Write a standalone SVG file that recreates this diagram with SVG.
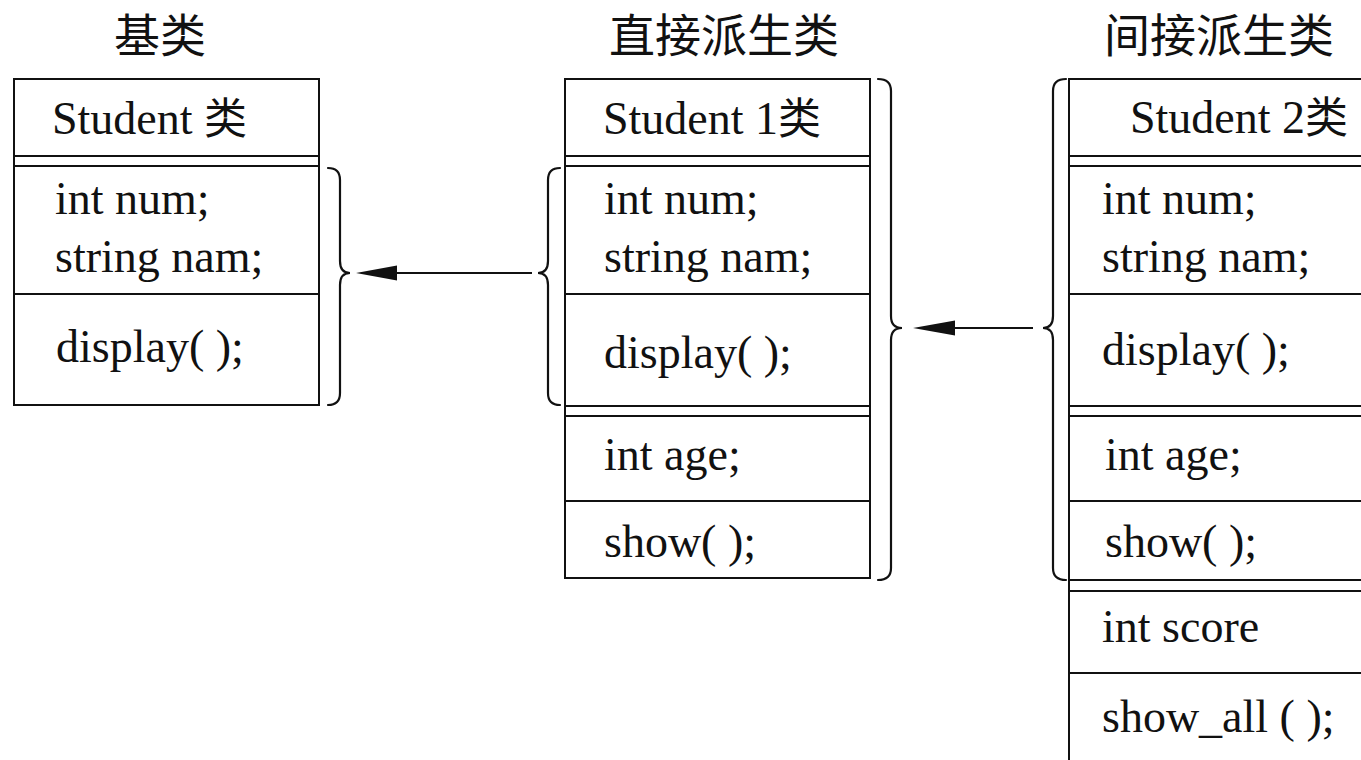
<svg xmlns="http://www.w3.org/2000/svg" width="1361" height="760" viewBox="0 0 1361 760">
  <defs>
    <style>
      .box { fill: #fff; stroke: #111; stroke-width: 2; }
      .sep { stroke: #111; stroke-width: 2; fill: none; }
      .brace { stroke: #111; stroke-width: 2.2; fill: none; stroke-linecap: round; }
      .link { stroke: #111; stroke-width: 2.2; fill: none; }
      .head { fill: #111; stroke: none; }
      .code { font-family: 'Liberation Serif', 'Times New Roman', serif; font-size: 46px; fill: #111; }
      .han { font-family: 'Noto Sans CJK SC', sans-serif; font-size: 43px; fill: #111; }
      .cap { font-family: 'Noto Sans CJK SC', sans-serif; font-size: 46px; fill: #111; }
    </style>
  </defs>

  <rect width="1361" height="760" fill="#fff"/>

  <!-- column headings -->
  <text class="cap" x="114" y="52">基类</text>
  <text class="cap" x="609" y="52">直接派生类</text>
  <text class="cap" x="1104" y="52">间接派生类</text>

  <!-- base class -->
  <g id="student">
    <rect class="box" x="14" y="79" width="305" height="326"/>
    <path class="sep" d="M14,156 H319 M14,166 H319 M14,294 H319"/>
    <text class="code" x="52" y="134">Student <tspan class="han">类</tspan></text>
    <text class="code" x="55" y="214">int num;</text>
    <text class="code" x="55" y="272">string nam;</text>
    <text class="code" x="56" y="362">display( );</text>
  </g>

  <!-- direct derived class -->
  <g id="student1">
    <rect class="box" x="565" y="79" width="305" height="499"/>
    <path class="sep" d="M565,156 H870 M565,166 H870 M565,294 H870 M565,406 H870 M565,416 H870 M565,501 H870"/>
    <text class="code" x="603" y="134">Student 1<tspan class="han">类</tspan></text>
    <text class="code" x="604" y="214">int num;</text>
    <text class="code" x="604" y="272">string nam;</text>
    <text class="code" x="604" y="368">display( );</text>
    <text class="code" x="604" y="470">int age;</text>
    <text class="code" x="604" y="557">show( );</text>
  </g>

  <!-- indirect derived class (runs past the right and bottom edges) -->
  <g id="student2">
    <rect class="box" x="1069" y="79" width="340" height="720"/>
    <path class="sep" d="M1069,156 H1361 M1069,166 H1361 M1069,294 H1361 M1069,406 H1361 M1069,416 H1361 M1069,501 H1361 M1069,580 H1361 M1069,591 H1361 M1069,673 H1361"/>
    <text class="code" x="1130" y="133">Student 2<tspan class="han">类</tspan></text>
    <text class="code" x="1102" y="214">int num;</text>
    <text class="code" x="1102" y="272">string nam;</text>
    <text class="code" x="1102" y="365">display( );</text>
    <text class="code" x="1105" y="470">int age;</text>
    <text class="code" x="1105" y="557">show( );</text>
    <text class="code" x="1102" y="642">int score</text>
    <text class="code" x="1102" y="732">show_all ( );</text>
  </g>

  <!-- braces and inheritance arrows -->
  <g id="connectors">
    <path class="brace" d="M328,168 Q340,168 340,180 V261 Q340,273 350,273 Q340,273 340,285 V393 Q340,405 328,405"/>
    <path class="brace" d="M560,168 Q548,168 548,180 V261 Q548,273 538,273 Q548,273 548,285 V393 Q548,405 560,405"/>
    <line class="link" x1="532" y1="273" x2="395" y2="273"/>
    <polygon class="head" points="356,273 397,265.5 397,280.5"/>

    <path class="brace" d="M878,79 Q891,79 891,91 V316 Q891,328 902,328 Q891,328 891,340 V568 Q891,580 878,580"/>
    <path class="brace" d="M1066,79 Q1053,79 1053,91 V316 Q1053,328 1043,328 Q1053,328 1053,340 V568 Q1053,580 1066,580"/>
    <line class="link" x1="1033" y1="328" x2="953" y2="328"/>
    <polygon class="head" points="913,328 955,320.5 955,335.5"/>
  </g>
</svg>
